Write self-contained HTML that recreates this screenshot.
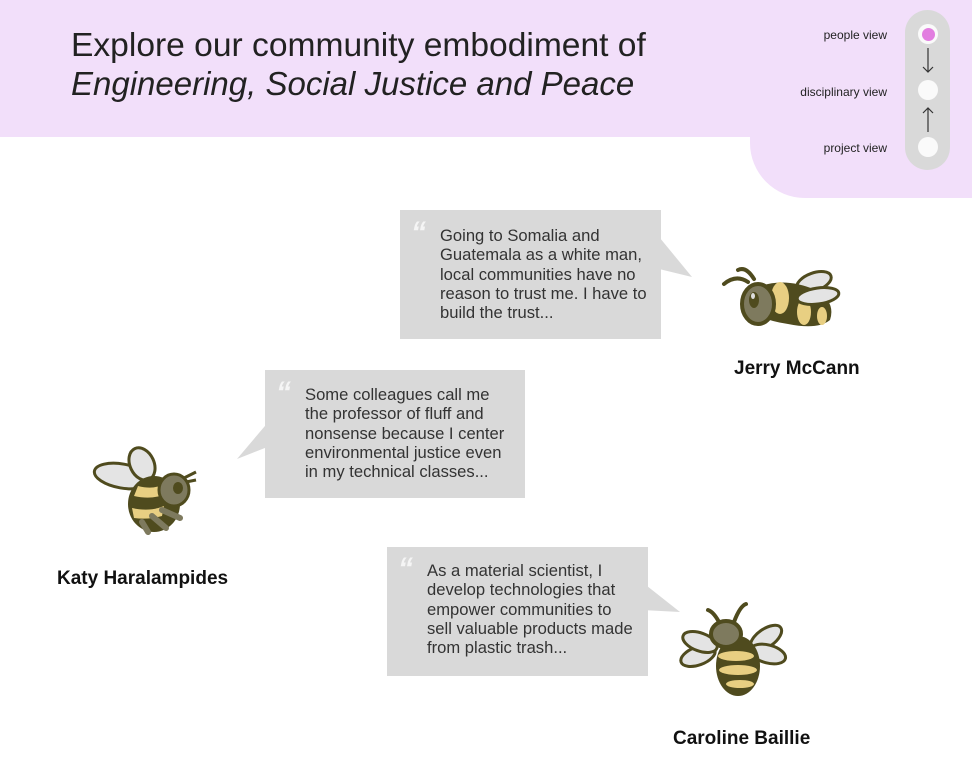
<!DOCTYPE html>
<html><head><meta charset="utf-8"><style>
body{margin:0;width:972px;height:770px;background:#fff;position:relative;overflow:hidden;font-family:"Liberation Sans",sans-serif;color:#222}
.abs{position:absolute}
.band{left:0;top:0;width:972px;height:137px;background:#f2dffa}
.panel{left:750px;top:0;width:222px;height:198px;background:#f2dffa;border-bottom-left-radius:55px}
.title{left:71px;top:27px;font-size:33.6px;line-height:38px;color:#222}
.title i{font-size:33px}
.lbl{font-size:12px;color:#222;text-align:right;width:150px}
.pill{left:905px;top:10px;width:45px;height:160px;background:#d9d9d9;border-radius:23px}
.dot{width:20px;height:20px;border-radius:50%;background:#fafafa}
.bub{background:#d9d9d9}
.q{font-size:16.6px;line-height:19.3px;color:#333}
.qm{font-family:"Liberation Sans",sans-serif;font-weight:bold;font-size:30px;color:#f5f5f5;font-style:italic;line-height:1}
.name{font-size:19px;font-weight:bold;color:#111}
</style></head><body>
<div class="abs band"></div>
<div class="abs panel"></div>
<div class="abs title">Explore our community embodiment of<br><i>Engineering, Social Justice and Peace</i></div>

<div class="abs lbl" style="left:737px;top:28px">people view</div>
<div class="abs lbl" style="left:737px;top:85px">disciplinary view</div>
<div class="abs lbl" style="left:737px;top:141px">project view</div>
<div class="abs pill"></div>
<div class="abs dot" style="left:918px;top:24px;display:flex;align-items:center;justify-content:center"><div style="width:13px;height:13px;border-radius:50%;background:#e27ee0"></div></div>
<div class="abs dot" style="left:918px;top:80px"></div>
<div class="abs dot" style="left:918px;top:137px"></div>
<svg class="abs" style="left:910px;top:40px" width="40" height="100">
<path d="M18 8 V32 M13 27 L18 32 L23 27" stroke="#333" stroke-width="1.2" fill="none"/>
<path d="M18 92 V68 M13 73 L18 68 L23 73" stroke="#333" stroke-width="1.2" fill="none"/>
</svg>

<svg class="abs" style="left:0;top:0" width="972" height="770">
<polygon points="655,232 692,277 655,268" fill="#d9d9d9"/>
<polygon points="270,420 237,459 270,446" fill="#d9d9d9"/>
<polygon points="642,582 680,612 642,610" fill="#d9d9d9"/>
</svg>
<div class="abs bub" style="left:400px;top:210px;width:261px;height:129px"></div>
<div class="abs qm" style="left:411px;top:218px">“</div>
<div class="abs q" style="left:440px;top:226px;width:220px">Going to Somalia and<br>Guatemala as a white man,<br>local communities have no<br>reason to trust me. I have to<br>build the trust...</div>

<div class="abs bub" style="left:265px;top:370px;width:260px;height:128px"></div>
<div class="abs qm" style="left:276px;top:378px">“</div>
<div class="abs q" style="left:305px;top:385px;width:220px">Some colleagues call me<br>the professor of fluff and<br>nonsense because I center<br>environmental justice even<br>in my technical classes...</div>

<div class="abs bub" style="left:387px;top:547px;width:261px;height:129px"></div>
<div class="abs qm" style="left:398px;top:554px">“</div>
<div class="abs q" style="left:427px;top:561px;width:220px">As a material scientist, I<br>develop technologies that<br>empower communities to<br>sell valuable products made<br>from plastic trash...</div>

<svg class="abs" style="left:718px;top:262px" width="125" height="70">
<g stroke="#4f4b1e" stroke-width="4" stroke-linecap="round" fill="none">
<path d="M30 20 Q18 12 6 22"/><path d="M36 17 Q28 4 20 8"/></g>
<ellipse cx="96" cy="20" rx="18" ry="9" fill="#e4e4e4" stroke="#4f4b1e" stroke-width="3" transform="rotate(-20 96 20)"/>
<path d="M30 30 Q60 12 98 28 Q118 40 112 58 Q100 68 70 62 Q40 58 30 44Z" fill="#4f4b1e"/>
<ellipse cx="62" cy="36" rx="9" ry="16" fill="#e8cf82"/>
<ellipse cx="86" cy="50" rx="7" ry="13" fill="#e8cf82"/>
<ellipse cx="104" cy="54" rx="5" ry="9" fill="#e8cf82"/>
<ellipse cx="100" cy="34" rx="21" ry="8" fill="#e4e4e4" stroke="#4f4b1e" stroke-width="3" transform="rotate(-8 100 34)"/>
<ellipse cx="40" cy="42" rx="16" ry="20" fill="#7e7a5e" stroke="#4f4b1e" stroke-width="4"/>
<ellipse cx="36" cy="38" rx="5" ry="8" fill="#4f4b1e"/>
<ellipse cx="35" cy="34" rx="2" ry="3" fill="#ddd"/>
</svg>
<div class="abs name" style="left:734px;top:358px">Jerry McCann</div>

<svg class="abs" style="left:92px;top:446px" width="110" height="90">
<ellipse cx="30" cy="30" rx="28" ry="12" fill="#e4e4e4" stroke="#4f4b1e" stroke-width="3" transform="rotate(10 30 30)"/>
<ellipse cx="50" cy="18" rx="12" ry="17" fill="#e4e4e4" stroke="#4f4b1e" stroke-width="3" transform="rotate(-25 50 18)"/>
<ellipse cx="62" cy="58" rx="26" ry="28" fill="#4f4b1e"/>
<path d="M46 40 Q62 44 72 38 L74 48 Q60 54 42 50Z" fill="#e8cf82"/>
<path d="M40 62 Q58 66 72 60 L70 70 Q56 74 42 72Z" fill="#e8cf82"/>
<ellipse cx="82" cy="44" rx="15" ry="16" fill="#7e7a5e" stroke="#4f4b1e" stroke-width="3"/>
<ellipse cx="86" cy="42" rx="5" ry="6" fill="#4f4b1e"/>
<path d="M92 32 L104 26 M94 36 L104 34" stroke="#4f4b1e" stroke-width="3"/>
<path d="M60 70 L74 82 M70 64 L88 72 M50 76 L56 86" stroke="#7e7a5e" stroke-width="6" stroke-linecap="round"/>
</svg>
<div class="abs name" style="left:57px;top:568px">Katy Haralampides</div>

<svg class="abs" style="left:678px;top:598px" width="110" height="105">
<path d="M42 26 Q36 14 30 12 M56 24 Q62 8 68 6" stroke="#4f4b1e" stroke-width="4" fill="none" stroke-linecap="round"/>
<ellipse cx="20" cy="58" rx="18" ry="9" fill="#e4e4e4" stroke="#4f4b1e" stroke-width="3" transform="rotate(-20 20 58)"/>
<ellipse cx="22" cy="44" rx="18" ry="9" fill="#e4e4e4" stroke="#4f4b1e" stroke-width="3" transform="rotate(20 22 44)"/>
<ellipse cx="88" cy="40" rx="18" ry="9" fill="#e4e4e4" stroke="#4f4b1e" stroke-width="3" transform="rotate(-35 88 40)"/>
<ellipse cx="90" cy="56" rx="18" ry="9" fill="#e4e4e4" stroke="#4f4b1e" stroke-width="3" transform="rotate(15 90 56)"/>
<ellipse cx="60" cy="68" rx="22" ry="30" fill="#4f4b1e"/>
<ellipse cx="58" cy="58" rx="18" ry="5" fill="#e8cf82"/>
<ellipse cx="60" cy="72" rx="19" ry="5" fill="#e8cf82"/>
<ellipse cx="62" cy="86" rx="14" ry="4" fill="#e8cf82"/>
<ellipse cx="48" cy="36" rx="15" ry="13" fill="#7e7a5e" stroke="#4f4b1e" stroke-width="4"/>
</svg>
<div class="abs name" style="left:673px;top:728px">Caroline Baillie</div>
</body></html>
